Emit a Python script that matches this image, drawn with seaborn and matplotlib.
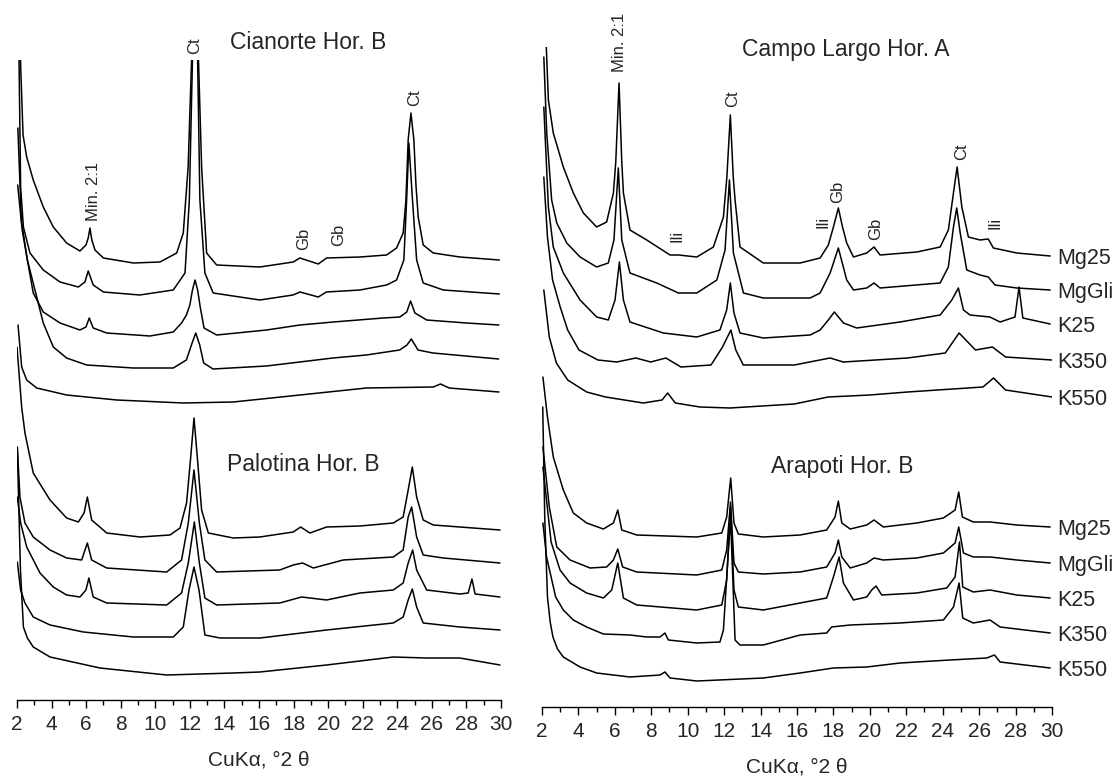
import seaborn as sns
import matplotlib.pyplot as plt
from matplotlib.ticker import MultipleLocator

# XRD traces: (2theta, stacked intensity in display units)
cianorte_mg25 = [(2.08, 760), (2.2, 640), (2.35, 565), (2.56, 543), (2.94, 520), (3.52, 493), (4.10, 473),
                 (4.87, 457), (5.64, 449), (5.99, 455), (6.12, 462), (6.22, 472), (6.33, 460), (6.51, 450),
                 (7.0, 442), (8.73, 437), (10.27, 438), (11.24, 447), (11.62, 467), (11.9, 533), (12.1, 640),
                 (12.3, 900), (12.5, 640), (12.68, 533), (12.97, 447), (13.55, 435), (16.05, 433), (17.98, 438),
                 (18.37, 442), (19.43, 436), (19.91, 442), (21.84, 443), (23.38, 445), (23.96, 452), (24.34, 467),
                 (24.5, 500), (24.63, 560), (24.79, 587), (24.96, 560), (25.08, 515), (25.21, 483), (25.5, 455),
                 (26.08, 447), (27.62, 443), (29.9, 440)]
cianorte_mggli = [(2.06, 720), (2.21, 513), (2.37, 473), (2.75, 447), (3.52, 430), (4.49, 418), (5.55, 413),
                  (5.93, 418), (6.12, 429), (6.41, 415), (7.0, 408), (9.1, 405), (11.04, 410), (11.72, 427),
                  (11.97, 500), (12.15, 640), (12.3, 800), (12.45, 640), (12.58, 500), (12.87, 427), (13.35, 407),
                  (16.05, 400), (17.97, 405), (18.37, 408), (19.43, 403), (19.9, 408), (21.84, 410), (23.38, 415),
                  (23.96, 420), (24.38, 440), (24.54, 500), (24.67, 557), (24.88, 500), (25.12, 440), (25.5, 417),
                  (26.66, 410), (29.9, 406)]
cianorte_k25 = [(2.05, 572), (2.25, 480), (2.6, 440), (2.94, 407), (3.52, 388), (4.49, 377), (5.64, 370),
                (5.99, 373), (6.18, 382), (6.41, 372), (7.19, 367), (9.69, 364), (11.04, 368), (11.52, 377),
                (11.8, 385), (12.0, 395), (12.15, 410), (12.3, 420), (12.45, 410), (12.6, 393), (12.82, 372),
                (13.55, 365), (16.44, 370), (18.37, 375), (20.3, 378), (23.19, 382), (24.15, 383), (24.55, 388),
                (24.77, 399), (25.02, 387), (25.7, 380), (28.0, 377), (29.88, 375)]
cianorte_k350 = [(2.04, 515), (2.3, 470), (2.6, 440), (3.14, 403), (3.52, 377), (4.1, 353), (4.87, 342),
                 (6.03, 335), (8.73, 332), (11.04, 332), (11.8, 340), (12.09, 355), (12.34, 367), (12.57, 355),
                 (12.8, 337), (13.34, 331), (16.43, 334), (18.36, 338), (20.28, 342), (22.21, 345), (24.14, 350),
                 (24.56, 355), (24.81, 361), (25.2, 350), (26.06, 347), (29.86, 341)]
cianorte_k550 = [(2.06, 375), (2.27, 333), (2.56, 320), (3.14, 312), (4.87, 305), (7.77, 300), (11.62, 297),
                 (14.51, 298), (18.37, 305), (22.22, 312), (26.08, 313), (26.5, 316), (27.0, 312), (29.88, 308)]

palotina_mg25 = [(2.0, 353), (2.27, 293), (2.46, 267), (2.94, 227), (3.91, 200), (4.87, 182), (5.55, 178),
                 (5.88, 187), (6.07, 203), (6.32, 180), (7.19, 167), (9.11, 163), (10.85, 165), (11.43, 172),
                 (11.81, 197), (12.05, 243), (12.24, 282), (12.43, 243), (12.68, 190), (13.07, 167), (14.51, 162),
                 (16.05, 163), (17.98, 168), (18.41, 173), (18.95, 167), (19.91, 173), (21.84, 174), (23.77, 177),
                 (24.34, 183), (24.63, 210), (24.87, 233), (25.12, 203), (25.5, 180), (26.08, 175), (29.94, 170)]
palotina_mggli = [(2.02, 253), (2.17, 203), (2.46, 177), (2.94, 163), (3.91, 150), (4.87, 142), (5.74, 140),
                  (6.07, 157), (6.32, 140), (7.19, 132), (10.66, 128), (11.52, 140), (11.91, 177), (12.24, 230),
                  (12.55, 177), (12.87, 140), (13.55, 128), (17.2, 130), (17.98, 135), (18.52, 137), (19.14, 132),
                  (20.87, 140), (23.77, 143), (24.34, 150), (24.63, 183), (24.83, 193), (25.12, 163), (25.5, 145),
                  (26.66, 142), (29.94, 137)]
palotina_k25 = [(2.02, 203), (2.21, 177), (2.56, 153), (3.33, 127), (4.1, 113), (4.87, 105), (5.64, 103),
                (5.99, 110), (6.16, 122), (6.41, 103), (7.19, 97), (10.66, 95), (11.52, 107), (11.91, 137),
                (12.26, 178), (12.55, 137), (12.87, 102), (13.55, 95), (17.2, 97), (18.46, 103), (19.91, 100),
                (21.84, 107), (23.77, 110), (24.34, 117), (24.63, 137), (24.89, 150), (25.12, 130), (25.7, 110),
                (27.62, 106), (28.1, 107), (28.32, 121), (28.5, 106), (29.94, 103)]
palotina_k350 = [(2.02, 138), (2.21, 110), (2.46, 97), (2.94, 83), (3.91, 75), (5.84, 68), (8.73, 63),
                 (11.04, 63), (11.62, 73), (11.95, 110), (12.24, 133), (12.53, 110), (12.87, 65), (13.74, 62),
                 (16.05, 62), (19.91, 70), (23.77, 77), (24.34, 83), (24.63, 100), (24.87, 111), (25.12, 93),
                 (25.5, 77), (27.62, 73), (29.94, 70)]
palotina_k550 = [(2.02, 250), (2.2, 130), (2.37, 73), (2.6, 62), (2.94, 53), (3.91, 43), (6.8, 32), (10.66, 25),
                 (14.51, 27), (16.05, 28), (19.91, 35), (23.77, 43), (25.7, 42), (27.62, 42), (29.94, 35)]

campo_mg25 = [(2.15, 700), (2.35, 607), (2.62, 574), (3.17, 540), (3.72, 514), (4.27, 494), (5.0, 480),
              (5.55, 485), (5.92, 514), (6.05, 545), (6.23, 624), (6.38, 545), (6.47, 514), (6.83, 477),
              (7.75, 467), (9.03, 452), (9.49, 452), (10.5, 450), (11.41, 460), (11.96, 490), (12.15, 530),
              (12.34, 592), (12.5, 530), (12.6, 507), (12.87, 460), (14.15, 444), (16.17, 444), (17.27, 449),
              (17.72, 462), (18.0, 480), (18.27, 499), (18.5, 480), (18.73, 464), (19.1, 450), (19.83, 454),
              (20.23, 460), (20.56, 452), (22.58, 455), (23.86, 460), (24.31, 477), (24.59, 514), (24.79, 540),
              (25.05, 500), (25.41, 470), (26.05, 467), (26.5, 468), (26.78, 459), (28.07, 454), (29.9, 451)]
campo_mggli = [(2.1, 650), (2.26, 574), (2.53, 507), (2.81, 484), (3.36, 464), (4.09, 450), (5.0, 440),
               (5.64, 444), (5.95, 467), (6.19, 539), (6.38, 467), (6.83, 434), (8.3, 424), (9.49, 414),
               (10.5, 414), (11.6, 427), (12.05, 457), (12.29, 527), (12.51, 454), (13.06, 414), (14.15, 409),
               (16.72, 409), (17.27, 414), (17.82, 434), (18.27, 459), (18.73, 427), (19.1, 417), (19.83, 419),
               (20.23, 424), (20.56, 419), (23.86, 424), (24.31, 440), (24.59, 480), (24.77, 499), (24.96, 474),
               (25.32, 437), (26.05, 432), (26.5, 430), (26.87, 422), (28.07, 419), (29.9, 417)]
campo_k25 = [(2.1, 600), (2.35, 500), (2.62, 460), (3.17, 434), (4.09, 407), (5.0, 390), (5.64, 387),
             (6.01, 407), (6.25, 445), (6.47, 407), (6.83, 385), (8.66, 374), (10.5, 370), (11.77, 377),
             (12.14, 397), (12.34, 424), (12.54, 394), (12.87, 374), (14.15, 369), (16.72, 372), (17.27, 377),
             (17.72, 387), (18.05, 395), (18.55, 384), (19.28, 379), (21.66, 385), (23.86, 392), (24.5, 407),
             (24.86, 419), (25.14, 397), (25.5, 392), (26.59, 390), (27.15, 385), (27.97, 390), (28.19, 420),
             (28.4, 389), (29.9, 383)]
campo_k350 = [(2.1, 530), (2.3, 470), (2.58, 427), (3.0, 400), (3.41, 377), (4.03, 357), (5.07, 347),
              (6.11, 345), (7.15, 349), (7.97, 345), (8.8, 349), (9.63, 340), (11.28, 342), (11.91, 360),
              (12.37, 377), (12.64, 357), (13.05, 342), (15.85, 342), (17.82, 349), (18.54, 345), (22.07, 349),
              (24.14, 354), (24.9, 374), (25.8, 357), (26.73, 360), (27.45, 350), (30.0, 347)]
campo_k550 = [(2.1, 417), (2.4, 370), (2.79, 344), (3.41, 327), (4.45, 315), (5.49, 310), (7.56, 304),
              (8.59, 307), (8.9, 314), (9.32, 304), (10.67, 300), (12.32, 299), (15.85, 303), (17.71, 310),
              (19.99, 312), (22.07, 315), (26.21, 320), (26.79, 329), (27.45, 317), (30.0, 310)]

arapoti_mg25 = [(2.05, 330), (2.3, 290), (2.62, 250), (3.17, 217), (3.72, 194), (4.45, 184), (5.37, 178),
                (5.92, 184), (6.16, 197), (6.38, 177), (7.2, 172), (10.5, 170), (11.87, 174), (12.14, 190),
                (12.36, 229), (12.54, 184), (12.78, 173), (14.15, 170), (16.17, 172), (17.63, 177), (18.09, 190),
                (18.27, 206), (18.46, 184), (18.92, 178), (19.83, 182), (20.23, 187), (20.74, 180), (22.58, 184),
                (24.04, 189), (24.68, 197), (24.88, 215), (25.08, 190), (25.68, 185), (26.6, 185), (28.07, 182),
                (29.9, 180)]
arapoti_mggli = [(2.05, 260), (2.4, 200), (2.81, 160), (3.54, 147), (4.64, 139), (5.55, 140), (5.92, 147),
                 (6.16, 158), (6.43, 140), (7.2, 135), (10.5, 132), (11.87, 137), (12.14, 157), (12.35, 205),
                 (12.54, 144), (12.78, 135), (14.15, 133), (16.17, 135), (17.63, 140), (18.09, 154), (18.27, 167),
                 (18.46, 150), (18.92, 139), (19.83, 144), (20.23, 149), (20.74, 147), (22.58, 149), (24.04, 154),
                 (24.68, 164), (24.88, 180), (25.14, 154), (25.68, 150), (26.6, 150), (28.07, 147), (29.9, 144)]
arapoti_k25 = [(2.05, 240), (2.5, 165), (2.99, 137), (3.54, 124), (4.45, 114), (5.37, 109), (5.83, 117),
               (6.16, 144), (6.47, 109), (7.2, 102), (10.5, 97), (11.87, 102), (12.14, 127), (12.35, 200),
               (12.54, 117), (12.78, 100), (14.15, 97), (16.17, 104), (17.63, 109), (18.0, 130), (18.31, 150),
               (18.55, 124), (19.1, 107), (19.83, 110), (20.1, 117), (20.34, 121), (20.65, 112), (22.58, 114),
               (24.22, 119), (24.68, 130), (24.92, 165), (25.1, 120), (25.68, 115), (26.6, 117), (28.07, 112),
               (29.9, 109)]
arapoti_k350 = [(2.05, 184), (2.25, 150), (2.5, 130), (2.75, 110), (3.17, 97), (3.72, 87), (4.45, 80),
                (5.37, 73), (6.83, 72), (7.75, 70), (8.48, 70), (8.75, 74), (8.94, 67), (10.5, 64), (11.77, 65),
                (11.96, 77), (12.35, 190), (12.6, 67), (12.87, 62), (14.15, 62), (16.17, 72), (17.63, 74),
                (17.9, 80), (18.92, 82), (21.66, 84), (24.04, 87), (24.59, 100), (24.9, 124), (25.1, 89),
                (25.68, 84), (26.6, 87), (27.15, 80), (29.9, 74)]
arapoti_k550 = [(2.04, 300), (2.15, 190), (2.3, 110), (2.45, 85), (2.6, 70), (2.85, 58), (3.17, 50), (4.09, 40),
                (5.0, 34), (6.83, 30), (8.48, 32), (8.75, 35), (9.03, 29), (10.5, 26), (14.15, 29), (16.17, 34),
                (18.0, 39), (19.83, 40), (21.66, 44), (24.4, 47), (26.42, 49), (26.84, 52), (27.15, 45),
                (29.9, 39)]

treatments = ["Mg25", "MgGli", "K25", "K350", "K550"]
left_traces = [cianorte_mg25, cianorte_mggli, cianorte_k25, cianorte_k350, cianorte_k550,
               palotina_mg25, palotina_mggli, palotina_k25, palotina_k350, palotina_k550]
right_upper = [campo_mg25, campo_mggli, campo_k25, campo_k350, campo_k550]
right_lower = [arapoti_mg25, arapoti_mggli, arapoti_k25, arapoti_k350, arapoti_k550]

sns.set_theme(style="ticks")
plt.rcParams["font.family"] = ["Liberation Sans", "DejaVu Sans"]

fig = plt.figure(figsize=(11.19, 7.78), dpi=100)
ax_l = fig.add_axes([0.01519, 0.10026, 0.43253, 0.82262])
ax_r = fig.add_axes([0.48436, 0.09126, 0.45576, 0.84833])


def draw(ax, traces):
    for tr in traces:
        xs = [p[0] for p in tr]
        ys = [p[1] for p in tr]
        sns.lineplot(x=xs, y=ys, ax=ax, color="black", linewidth=1.1, sort=False, estimator=None)


draw(ax_l, left_traces)
draw(ax_r, right_upper + right_lower)

for ax, top in [(ax_l, 640), (ax_r, 660)]:
    ax.set_xlim(2, 30)
    ax.set_ylim(0, top)
    for s in ["left", "right", "top"]:
        ax.spines[s].set_visible(False)
    ax.spines["bottom"].set_linewidth(1.0)
    ax.spines["bottom"].set_color("black")
    ax.set_yticks([])
    ax.xaxis.set_major_locator(MultipleLocator(2))
    ax.xaxis.set_minor_locator(MultipleLocator(1))
    ax.tick_params(axis="x", which="major", length=6, width=1.0, labelsize=15, pad=5, color="black")
    ax.tick_params(axis="x", which="minor", length=3.5, width=1.0, color="black")
    ax.set_xlabel("CuKα, °2 θ", fontsize=15, labelpad=12)
    ax.set_ylabel("")

# panel titles
title_kw = dict(fontsize=16.5, ha="center", va="center", clip_on=False)
ax_l.text(18.83, 657, "Cianorte Hor. B", **title_kw)
ax_l.text(18.54, 235, "Palotina Hor. B", **title_kw)
ax_r.text(18.69, 657, "Campo Largo Hor. A", **title_kw)
ax_r.text(18.47, 240, "Arapoti Hor. B", **title_kw)

# peak labels
peak_kw = dict(fontsize=12, rotation=90, ha="center", va="center", clip_on=False)
for x, y, t in [(12.3, 654, "Ct"), (6.4, 509, "Min. 2:1"), (25.02, 602, "Ct"),
                (18.6, 461, "Gb"), (20.6, 465, "Gb")]:
    ax_l.text(x, y, t, **peak_kw)
for x, y, t in [(6.28, 665, "Min. 2:1"), (12.49, 608, "Ct"), (9.41, 471, "Ili"), (17.43, 485, "Ili"),
                (18.25, 515, "Gb"), (20.29, 478, "Gb"), (25.06, 555, "Ct"), (26.88, 484, "Ili")]:
    ax_r.text(x, y, t, **peak_kw)

# treatment labels at the right end of each trace
for group in [right_upper, right_lower]:
    for name, tr in zip(treatments, group):
        ax_r.text(30.3, tr[-1][1] - 3, name, fontsize=15.5, ha="left", va="center", clip_on=False)

plt.savefig("out.png", dpi=100)
plt.close()
